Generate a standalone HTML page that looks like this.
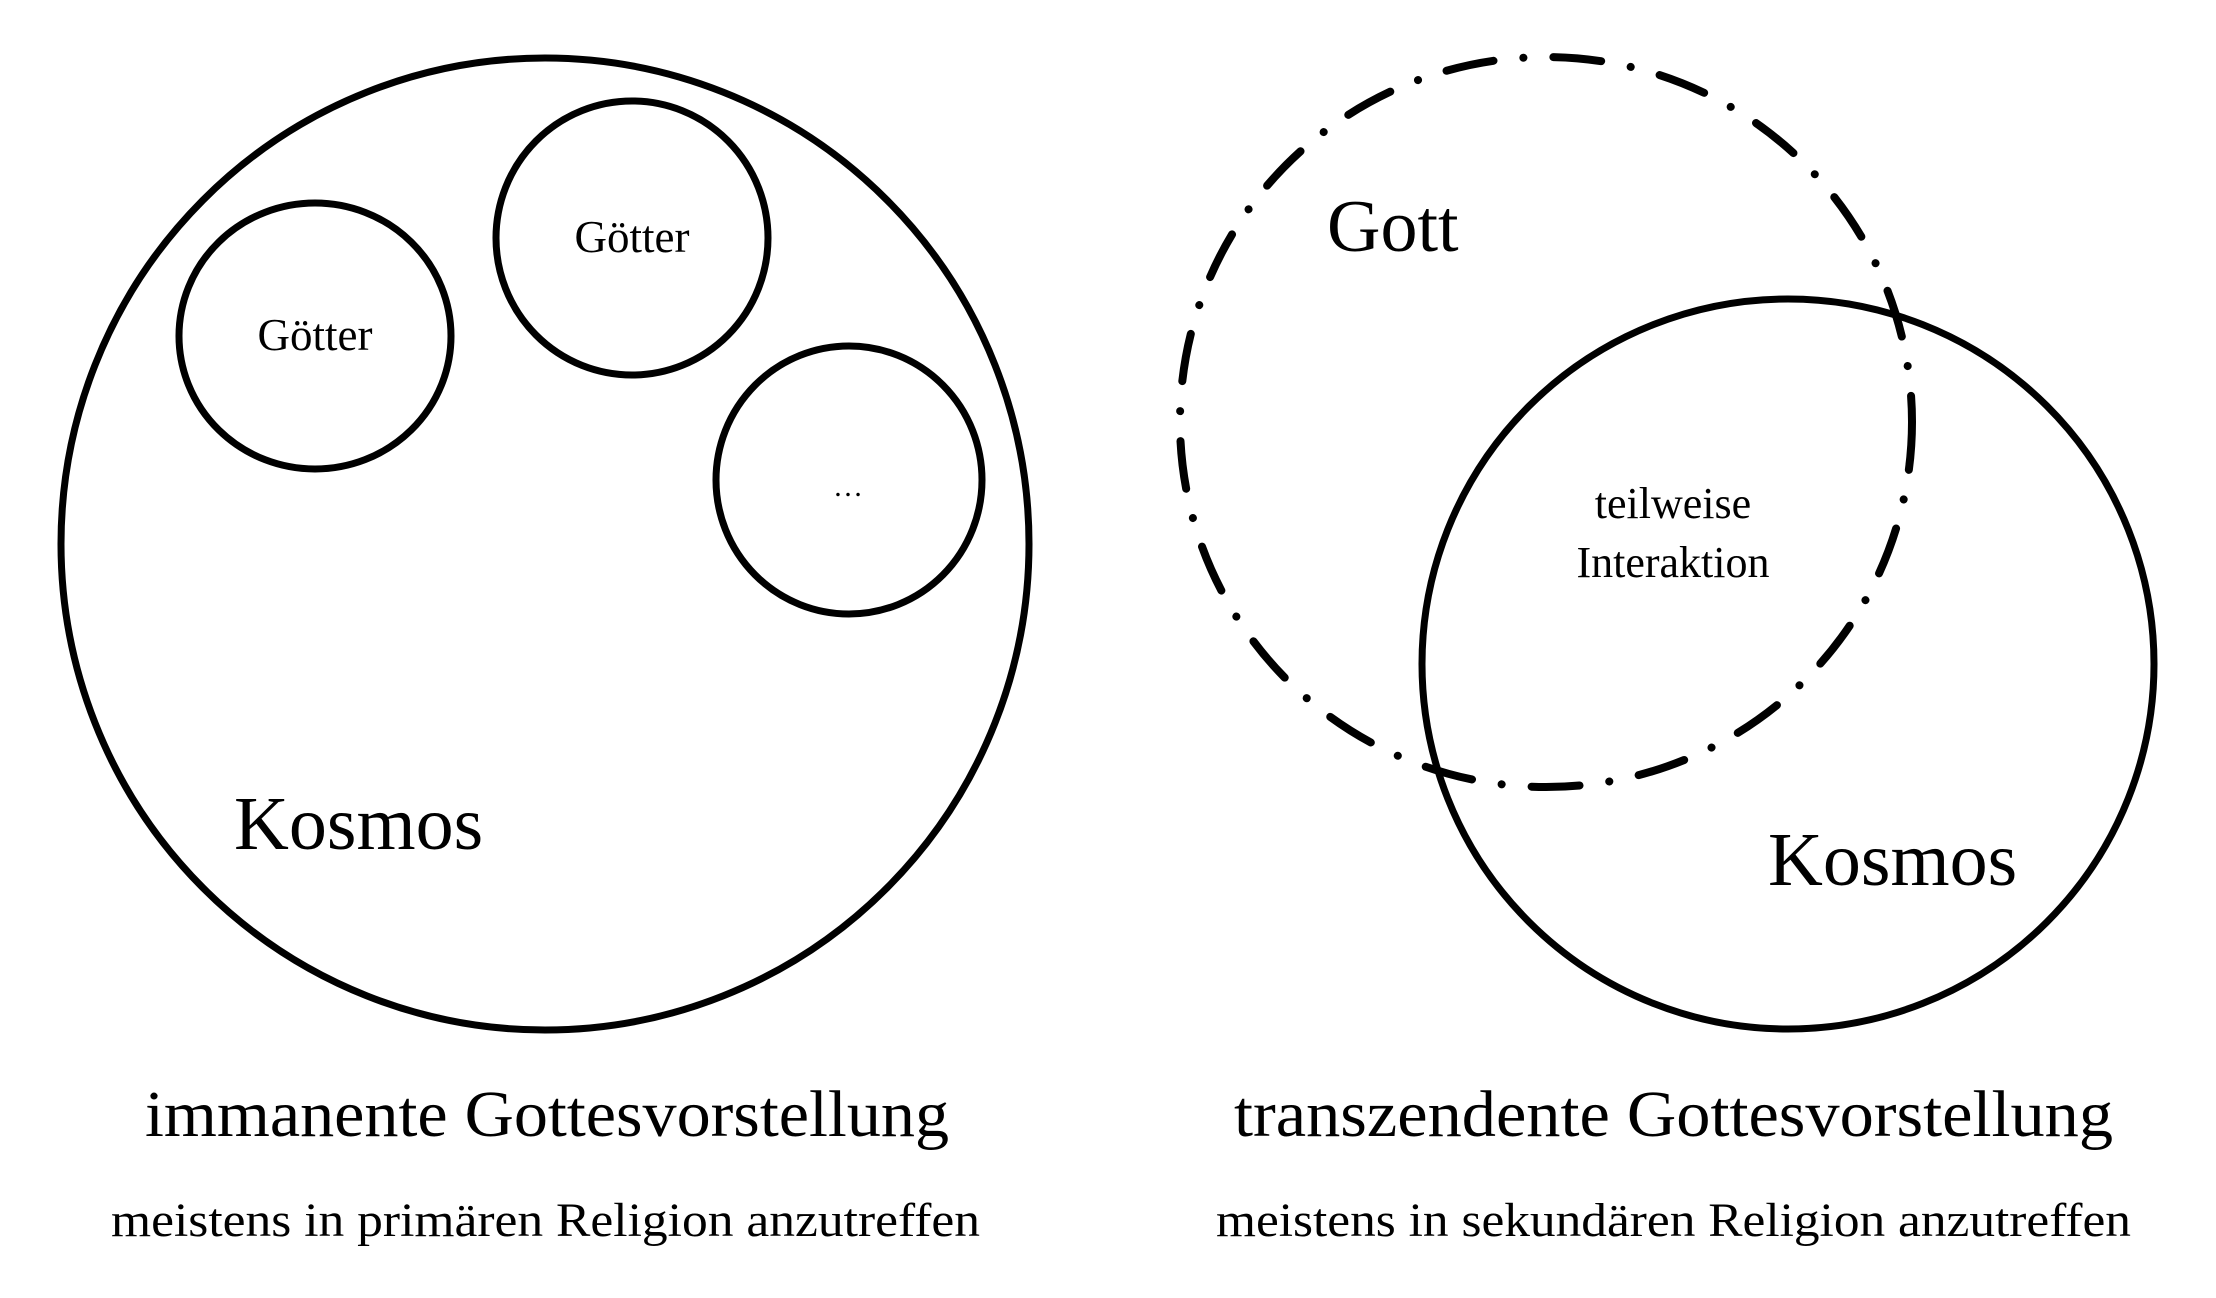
<!DOCTYPE html>
<html><head><meta charset="utf-8"><style>html,body{margin:0;padding:0;background:#fff}svg{display:block}</style></head>
<body>
<svg width="2216" height="1298" viewBox="0 0 2216 1298" xmlns="http://www.w3.org/2000/svg" font-family="'Liberation Serif', serif" fill="#000">
<g fill="none" stroke="#000" stroke-width="7">
<ellipse cx="545" cy="544" rx="484" ry="486"/>
<ellipse cx="315" cy="336" rx="136" ry="133"/>
<ellipse cx="632" cy="238" rx="136" ry="137"/>
<ellipse cx="849" cy="480" rx="133" ry="134"/>
<ellipse cx="1788" cy="664" rx="366" ry="365"/>
<ellipse cx="1546" cy="422" rx="366" ry="365" stroke-width="8" stroke-linecap="round" stroke-dasharray="48 30 0.1 30"/>
</g>
<g text-anchor="middle">
<text x="315" y="350" font-size="45">Götter</text>
<text x="632" y="252" font-size="45">Götter</text>
<text x="848" y="496" font-size="30">…</text>
<text x="1673" y="518" font-size="44">teilweise</text>
<text x="1673" y="577" font-size="44">Interaktion</text>
</g>
<text x="145" y="1136" font-size="66" textLength="804" lengthAdjust="spacingAndGlyphs">immanente Gottesvorstellung</text>
<text x="111" y="1236" font-size="48" textLength="869" lengthAdjust="spacingAndGlyphs">meistens in primären Religion anzutreffen</text>
<text x="1234" y="1136" font-size="66" textLength="879" lengthAdjust="spacingAndGlyphs">transzendente Gottesvorstellung</text>
<text x="1216" y="1236" font-size="48" textLength="915" lengthAdjust="spacingAndGlyphs">meistens in sekundären Religion anzutreffen</text>
<text x="234" y="849" font-size="76">Kosmos</text>
<text x="1768" y="885" font-size="76">Kosmos</text>
<text x="1327" y="251" font-size="74">Gott</text>
</svg>
</body></html>
